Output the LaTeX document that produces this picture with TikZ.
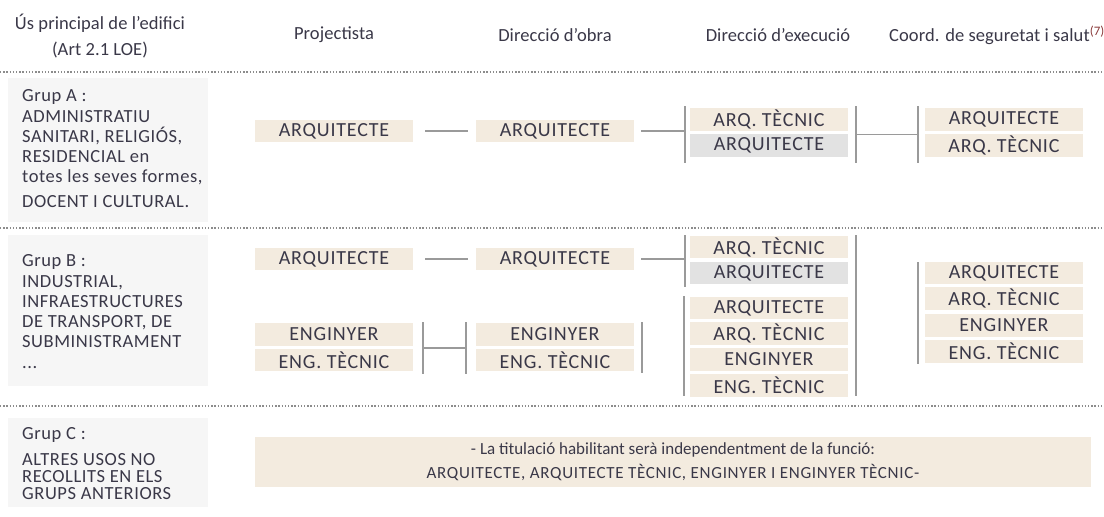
\documentclass[tikz,border=0pt]{standalone}
\usepackage{fontspec}
\setmainfont{Carlito}
\newfontfamily\boxfont{Carlito}[LetterSpace=4]
\newfontfamily\panelfont{Carlito}[LetterSpace=3]
\newfontfamily\headfont{Carlito}[LetterSpace=0.5]
\newfontfamily\cfont{Carlito}
\newfontfamily\cfontw{Carlito}[LetterSpace=4]
\usetikzlibrary{positioning,calc}
\definecolor{txt}{HTML}{3A3848}
\definecolor{beige}{HTML}{F3EBDF}
\definecolor{grayb}{HTML}{E2E2E2}
\definecolor{panel}{HTML}{F6F6F6}
\definecolor{linec}{HTML}{9A9A9A}
\definecolor{dotc}{HTML}{8C8C8C}
\definecolor{supc}{HTML}{8A3A3A}
\tikzset{
  box/.style={fill=beige, minimum width=158pt, minimum height=22.5pt, inner sep=0pt, text=txt, font=\boxfont\fontsize{20}{22}\selectfont},
  gbox/.style={box, fill=grayb},
  conn/.style={draw=linec, line width=1.2pt},
  dotline/.style={draw=dotc, line width=1.2pt, dash pattern=on 1.3pt off 1.9pt},
  panelbox/.style={fill=panel, draw=none},
  head/.style={text=txt, font=\headfont\fontsize{18.5}{26}\selectfont, align=center},
  ptext/.style={text=txt, font=\panelfont\fontsize{18.5}{20.3}\selectfont, align=left, anchor=north west, inner sep=0pt},
}
\begin{document}
\begin{tikzpicture}[x=1pt,y=-1pt]
\useasboundingbox (0,0) rectangle (1104,517);
\fill[white] (0,0) rectangle (1104,517);

% headers
\node[head] (h0) at (100,36) {Ús principal de l’edifici\\(Art 2.1 LOE)};
\node[head] (h1) at (334,35) {Projectista};
\node[head] (h2) at (555,35) {Direcció d’obra};
\node[head] (h3) at (778,35) {Direcció d’execució};
\node[head] (h4) at (997,35) {Coord. de seguretat i salut\textsuperscript{\color{supc}(7)}};

% dotted separators
\coordinate (d1l) at (0,72); \coordinate (d1r) at (1104,72);
\coordinate (d2l) at (0,228); \coordinate (d2r) at (1104,228);
\coordinate (d3l) at (0,406); \coordinate (d3r) at (1104,406);
\draw[dotline] (d1l) -- (d1r);
\draw[dotline] (d2l) -- (d2r);
\draw[dotline] (d3l) -- (d3r);

% left panels
\fill[panelbox] (8,78) rectangle (208,222);
\fill[panelbox] (8,235) rectangle (208,386);
\fill[panelbox] (8,418) rectangle (208,507);

\node[ptext] (ga) at (22,89.5) {Grup A :\\ADMINISTRATIU\\SANITARI, RELIGIÓS,\\RESIDENCIAL en\\totes les seves formes,\\[4pt]DOCENT I CULTURAL.};
\node[ptext] (gb) at (22,254.5) {Grup B :\\INDUSTRIAL,\\INFRAESTRUCTURES\\DE TRANSPORT, DE\\SUBMINISTRAMENT\\...};
\node[ptext, font=\panelfont\fontsize{18.5}{17}\selectfont] (gc) at (22,427.5) {Grup C :\\[8.5pt]ALTRES USOS NO\\RECOLLITS EN ELS\\GRUPS ANTERIORS};

% ---- Group A ----
\node[box] (pa) at (334,131) {ARQUITECTE};
\node[box] (oa) at (555,131) {ARQUITECTE};
\node[box] (ea1) at (769,119.5) {ARQ. TÈCNIC};
\node[gbox] (ea2) at (769,145.5) {ARQUITECTE};
\node[box] (ca1) at (1004,119.5) {ARQUITECTE};
\node[box] (ca2) at (1004,145.5) {ARQ. TÈCNIC};

\draw[conn] ([xshift=12pt]pa.east) -- ([xshift=-8pt]oa.west);
\coordinate (aB1t) at (685,106); \coordinate (aB1b) at (685,163);
\draw[conn] (aB1t) -- (aB1b);
\draw[conn] ([xshift=7pt]oa.east) -- (oa.east -| aB1t);
\coordinate (aB2t) at (856,106); \coordinate (aB2b) at (856,163);
\coordinate (aB3t) at (918,106); \coordinate (aB3b) at (918,163);
\draw[conn] (aB2t) -- (aB2b);
\draw[conn] (aB3t) -- (aB3b);
\draw[conn] ($(aB2t)!0.5!(aB2b)$) -- ($(aB3t)!0.5!(aB3b)$);

% ---- Group B ----
\node[box] (pb) at (334,259) {ARQUITECTE};
\node[box] (ob) at (555,259) {ARQUITECTE};
\node[box] (eb1) at (769,247) {ARQ. TÈCNIC};
\node[gbox] (eb2) at (769,273) {ARQUITECTE};

\node[box] (pb1) at (334,334.5) {ENGINYER};
\node[box] (pb2) at (334,360) {ENG. TÈCNIC};
\node[box] (ob1) at (555,334.5) {ENGINYER};
\node[box] (ob2) at (555,360) {ENG. TÈCNIC};

\node[box] (eb3) at (769,308) {ARQUITECTE};
\node[box] (eb4) at (769,333.5) {ARQ. TÈCNIC};
\node[box] (eb5) at (769,359.5) {ENGINYER};
\node[box] (eb6) at (769,385.5) {ENG. TÈCNIC};

\node[box] (cb1) at (1004,273) {ARQUITECTE};
\node[box] (cb2) at (1004,298.5) {ARQ. TÈCNIC};
\node[box] (cb3) at (1004,325.5) {ENGINYER};
\node[box] (cb4) at (1004,351.5) {ENG. TÈCNIC};

\draw[conn] ([xshift=12pt]pb.east) -- ([xshift=-8pt]ob.west);
\coordinate (bB1t) at (685,235); \coordinate (bB1b) at (685,287);
\draw[conn] (bB1t) -- (bB1b);
\draw[conn] ([xshift=7pt]ob.east) -- (ob.east -| bB1t);

\coordinate (bB2t) at (423,322); \coordinate (bB2b) at (423,374);
\coordinate (bB3t) at (466,322); \coordinate (bB3b) at (466,374);
\draw[conn] (bB2t) -- (bB2b);
\draw[conn] (bB3t) -- (bB3b);
\draw[conn] ($(bB2t)!0.5!(bB2b)$) -- ($(bB3t)!0.5!(bB3b)$);

\coordinate (bB4t) at (642,322); \coordinate (bB4b) at (642,373);
\coordinate (bB5t) at (684,296); \coordinate (bB5b) at (684,396);
\draw[conn] (bB4t) -- (bB4b);
\draw[conn] (bB5t) -- (bB5b);
\draw[conn] ($(bB4t)!0.5!(bB4b)$) -- ($(bB4t)!0.5!(bB4b)$ -| bB5t);

\coordinate (bB6t) at (856,235); \coordinate (bB6b) at (856,396);
\coordinate (bB7t) at (918,262); \coordinate (bB7b) at (918,364);
\draw[conn] (bB6t) -- (bB6b);
\draw[conn] (bB7t) -- (bB7b);
\draw[conn] ($(bB7t)!0.5!(bB7b)$ -| bB6t) -- ($(bB7t)!0.5!(bB7b)$);

% ---- Group C ----
\node[box, minimum width=836pt, minimum height=50pt, align=center, font=\cfont\fontsize{17}{24}\selectfont] (gcbox) at (673,462) {- La titulació habilitant serà independentment de la funció:\\{\cfontw ARQUITECTE, ARQUITECTE TÈCNIC, ENGINYER I ENGINYER TÈCNIC-}};
\end{tikzpicture}
\end{document}
